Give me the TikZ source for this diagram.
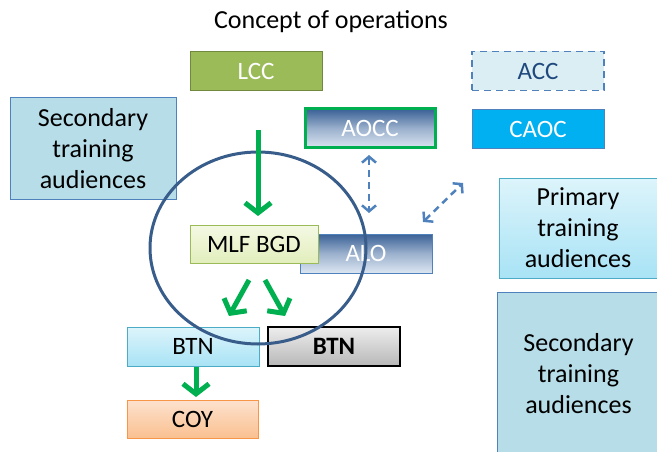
\documentclass[tikz,border=0pt]{standalone}
\usepackage{fontspec}
\setmainfont{Carlito}
\usetikzlibrary{arrows.meta}
\definecolor{lccfill}{HTML}{9BBB59}
\definecolor{lccdraw}{HTML}{71893F}
\definecolor{accfill}{HTML}{DBEEF4}
\definecolor{bluedraw}{HTML}{4F81BD}
\definecolor{acctext}{HTML}{1F497D}
\definecolor{greenline}{HTML}{00B050}
\definecolor{darkblue}{HTML}{3A6196}
\definecolor{paleblue}{HTML}{DCE6F2}
\definecolor{caocfill}{HTML}{00B0F0}
\definecolor{secfill}{HTML}{B7DDE8}
\definecolor{cyandraw}{HTML}{4BACC6}
\definecolor{primtop}{HTML}{DDF4FB}
\definecolor{primbot}{HTML}{A8E3F5}
\definecolor{mlftop}{HTML}{F4F9E4}
\definecolor{mlfbot}{HTML}{E2EEBC}
\definecolor{coytop}{HTML}{FDE2CE}
\definecolor{coybot}{HTML}{FAC090}
\definecolor{coydraw}{HTML}{F79646}
\definecolor{circ}{HTML}{385D8A}
\tikzset{
  box/.style={minimum width=132pt, minimum height=39pt, inner sep=0pt, font=\fontsize{25}{30}\selectfont, line width=1pt},
  bigbox/.style={inner sep=0pt, align=center, font=\fontsize{26}{31}\selectfont, line width=1pt},
  bluegrad/.style={top color=darkblue, bottom color=paleblue, middle color=paleblue!60!darkblue, shading angle=0},
  garrow/.style={draw=greenline, line width=5pt, -{Straight Barb[length=10pt,width=26pt,line width=5pt]}},
  darrow/.style={draw=bluedraw, line width=2.5pt, dash pattern=on 7pt off 5pt, {Straight Barb[length=6pt,width=14pt,line width=2.5pt]}-{Straight Barb[length=6pt,width=14pt,line width=2.5pt]}}
}
\begin{document}
\begin{tikzpicture}[x=1pt,y=-1pt]
\useasboundingbox (0,0) rectangle (657,452);
\node (title) at (331,22) {\fontsize{26}{30}\selectfont Concept of operations};
\node[box, fill=lccfill, draw=lccdraw, text=white] (lcc) at (256,71.5) {LCC};
\node[box, fill=accfill, draw=bluedraw, line width=1.8pt, dash pattern=on 7pt off 5pt, text=acctext] (acc) at (538,71) {ACC};
\node[box, minimum width=130pt, bluegrad, draw=greenline, line width=3pt, text=white] (aocc) at (370,128.5) {AOCC};
\node[box, fill=caocfill, draw=bluedraw, text=white] (caoc) at (538,129) {CAOC};
\node[bigbox, minimum width=166pt, minimum height=101pt, fill=secfill, draw=bluedraw] (sec1) at (93,148.5) {Secondary\\training\\audiences};
\node[bigbox, minimum width=158pt, minimum height=100pt, top color=primtop, bottom color=primbot, draw=cyandraw] (prim) at (578,228) {Primary\\training\\audiences};
\node[bigbox, minimum width=163pt, minimum height=164pt, fill=secfill, draw=bluedraw] (sec2) at (578.5,374) {Secondary\\training\\audiences};
\node[box, bluegrad, draw=bluedraw, text=white] (alo) at (366,253.5) {ALO};
\node[box, minimum width=128pt, minimum height=38pt, top color=mlftop, bottom color=mlfbot, draw=lccfill] (mlf) at (254,244) {MLF BGD};
\node[box, top color=primtop, bottom color=primbot, draw=cyandraw] (btn1) at (193,346.5) {BTN};
\node[box, top color=white!93!black, bottom color=white!72!black, draw=black, line width=2pt, font=\fontsize{25}{30}\selectfont\bfseries] (btn2) at (334,346.5) {BTN};
\node[box, minimum width=131pt, minimum height=38pt, top color=coytop, bottom color=coybot, draw=coydraw] (coy) at (192.5,419) {COY};
\draw[draw=circ, line width=3pt] (258,248) ellipse [x radius=108, y radius=96];
\coordinate (g1s) at (258,130);
\coordinate (g1e) at (258,216);
\coordinate (g2s) at (249,280);
\coordinate (g2e) at (229,316);
\coordinate (g3s) at (265,280);
\coordinate (g3e) at (285,316);
\coordinate (g4s) at (196,367);
\coordinate (g4e) at (196,397);
\draw[garrow] (g1s) -- (g1e);
\draw[garrow] (g2s) -- (g2e);
\draw[garrow] (g3s) -- (g3e);
\draw[garrow] (g4s) -- (g4e);
\coordinate (d1s) at (369,155);
\coordinate (d1e) at (369,213);
\coordinate (d2s) at (423,222);
\coordinate (d2e) at (463,183);
\draw[darrow] (d1s) -- (d1e);
\draw[darrow] (d2s) -- (d2e);
\end{tikzpicture}
\end{document}
